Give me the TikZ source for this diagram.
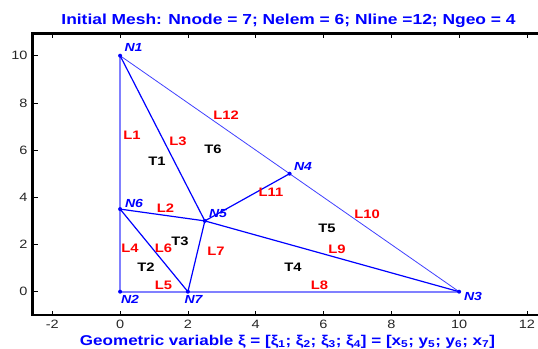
\documentclass[tikz,border=0pt]{standalone}
\usepackage{fontspec}
\setmainfont{Liberation Sans}
\newfontfamily\labfont[FakeStretch=1.2]{Liberation Sans}
\begin{document}
\begin{tikzpicture}[x=1pt,y=-1pt,
  every node/.style={inner sep=0pt,outer sep=0pt},
  ttl/.style={text=blue,font=\labfont\bfseries\fontsize{14.5}{15}\selectfont},
  xlab/.style={text=blue,font=\labfont\bfseries\fontsize{14.2}{15}\selectfont},
  tick/.style={font=\labfont\fontsize{12.1}{13}\selectfont,text=black!85},
  nlab/.style={text=blue,font=\labfont\bfseries\itshape\fontsize{11.7}{13}\selectfont},
  llab/.style={text=red,font=\labfont\bfseries\fontsize{12.3}{13}\selectfont},
  tlab/.style={text=black,font=\labfont\bfseries\fontsize{12.3}{13}\selectfont},
  bnd/.style={draw=blue!50,line width=1.7pt},
  bndthin/.style={draw=blue!75,line width=0.8pt},
  inner/.style={draw=blue,line width=1.2pt},
  dot/.style={circle,fill=blue,minimum size=4pt,inner sep=0pt}]
\useasboundingbox (0,0) rectangle (538,348);
% title
\node[ttl] (title) at (288.5,20.6) {Initial Mesh: Nnode = 7; Nelem = 6; Nline =12; Ngeo = 4};
\node[xlab] (xlabel) at (287.5,341.5) {Geometric variable ξ = [ξ\textsubscript{1}; ξ\textsubscript{2}; ξ\textsubscript{3}; ξ\textsubscript{4}] = [x\textsubscript{5}; y\textsubscript{5}; y\textsubscript{6}; x\textsubscript{7}]};
% axes
\coordinate (tl) at (32.6,33.6);
\coordinate (bl) at (32.6,315.1);
\coordinate (tr) at (538,33.6);
\coordinate (br) at (538,315.1);
\draw[line width=2.4pt,line cap=rect] (tr) -- (tl) -- (bl) -- (br);
\foreach \k in {-2,0,...,12}{
  \pgfmathsetmacro{\px}{120.1+33.9*\k}
  \draw[line width=0.7pt] (\px,315.1) -- (\px,311);
  \draw[line width=0.7pt] (\px,33.6) -- (\px,37.7);
  \node[tick] at (\px,324.7) {\k};
}
\foreach \k in {0,2,...,10}{
  \pgfmathsetmacro{\py}{291.7-23.6*\k}
  \draw[line width=0.7pt] (32.6,\py) -- (37.5,\py);
  \node[tick,anchor=east] at (27.5,\py) {\k};
}
% mesh in data coordinates
\begin{scope}[shift={(120.1,291.7)},x=33.9pt,y=23.6pt]
\coordinate (N1) at (0,10);
\coordinate (N2) at (0,0);
\coordinate (N3) at (10,0);
\coordinate (N4) at (5,5);
\coordinate (N5) at (2.5,3);
\coordinate (N6) at (0,3.5);
\coordinate (N7) at (2,0);
\end{scope}
\draw[bnd] (N1) -- (N6);
\draw[bnd] (N6) -- (N2);
\draw[bnd] (N2) -- (N7);
\draw[bnd] (N7) -- (N3);
\draw[bndthin] (N3) -- (N4);
\draw[bndthin] (N4) -- (N1);
\draw[inner] (N6) -- (N5);
\draw[inner] (N1) -- (N5);
\draw[inner] (N6) -- (N7);
\draw[inner] (N5) -- (N7);
\draw[inner] (N5) -- (N3);
\draw[inner] (N4) -- (N5);
\foreach \n in {N1,N2,N3,N4,N5,N6,N7}{\node[dot] (d\n) at (\n) {};}
% node labels
\node[nlab] (lN1) at (133.5,47.5) {N1};
\node[nlab] (lN2) at (130,299.5) {N2};
\node[nlab] (lN3) at (473,296.5) {N3};
\node[nlab] (lN4) at (303,166.5) {N4};
\node[nlab] (lN5) at (218,213.5) {N5};
\node[nlab] (lN6) at (134,203.5) {N6};
\node[nlab] (lN7) at (193.5,299.5) {N7};
% line labels
\node[llab] (L1) at (132,135.5) {L1};
\node[llab] (L2) at (165.5,208) {L2};
\node[llab] (L3) at (178,141.5) {L3};
\node[llab] (L4) at (130,248) {L4};
\node[llab] (L5) at (163.5,285) {L5};
\node[llab] (L6) at (163.5,248) {L6};
\node[llab] (L7) at (216,251) {L7};
\node[llab] (L8) at (319.5,285.5) {L8};
\node[llab] (L9) at (337,249) {L9};
\node[llab] (L10) at (367,214) {L10};
\node[llab] (L11) at (271,192.5) {L11};
\node[llab] (L12) at (226,115.5) {L12};
% element labels
\node[tlab] (T1) at (157,161) {T1};
\node[tlab] (T2) at (146,267) {T2};
\node[tlab] (T3) at (180,241) {T3};
\node[tlab] (T4) at (293,267.5) {T4};
\node[tlab] (T5) at (327,228.5) {T5};
\node[tlab] (T6) at (213,149) {T6};
\end{tikzpicture}
\end{document}
